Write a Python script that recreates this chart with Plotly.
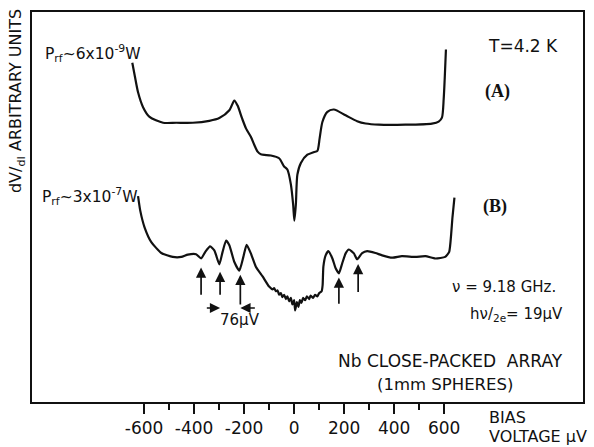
import plotly.graph_objects as go

# Bias voltage (µV) and dV/dI (arbitrary units) for the two rf power levels
bias_a = [-647, -637, -624, -604, -578, -524, -471, -405, -339, -299, -259, -239, -226,
          -208, -192, -173, -159, -146, -133, -93, -60, -40, -27, -13, -4, 1, 7, 13, 27,
          53, 80, 93, 102, 113, 133, 159, 206, 252, 286, 339, 445, 551, 578, 591, 598,
          602, 607]
didv_a = [87.0, 83.6, 79.4, 75.6, 73.1, 71.6, 71.6, 71.6, 72.1, 72.8, 74.8, 77.3, 76.0,
          72.7, 70.1, 68.0, 65.9, 64.2, 63.5, 63.2, 62.5, 60.4, 59.6, 55.8, 50.7, 46.5,
          50.7, 58.3, 61.3, 63.4, 64.1, 64.4, 67.6, 71.8, 74.4, 75.0, 73.5, 72.0, 71.4,
          71.1, 71.1, 71.4, 71.9, 72.9, 77.7, 82.8, 90.4]

bias_b = [-624, -615, -598, -571, -531, -485, -451, -425, -392, -372, -355, -336, -319,
          -299, -286, -272, -259, -239, -219, -203, -190, -173, -153, -126,
          -100, -86, -80, -73, -66, -60, -53, -47, -40, -33, -27, -20, -13, -7, 0, 4,
          11, 17, 23, 29, 36, 44, 51, 60, 66, 76, 84, 93, 100, 110, 114,
          117, 126, 137, 153, 166, 179, 192, 206, 219, 239, 252, 272, 292, 325, 352,
          392, 431, 485, 525, 565, 604, 620, 628, 633, 641]
didv_b = [52.8, 49.0, 44.8, 41.0, 38.2, 37.2, 37.2, 37.8, 37.9, 36.8, 38.5, 39.9, 38.9,
          35.3, 38.5, 41.4, 40.2, 35.9, 33.7, 37.2, 40.3, 38.1, 34.7, 32.2,
          29.6, 28.9, 29.2, 28.4, 28.6, 27.5, 27.9, 26.9, 27.5, 26.4, 27.1, 25.8, 26.7,
          25.0, 26.1, 23.5, 25.6, 24.4, 26.1, 25.4, 26.7, 26.1, 27.1, 26.4, 27.3, 26.7,
          27.5, 27.1, 27.9, 28.4, 30.0,
          34.7, 37.6, 38.7, 36.8, 34.3, 33.0, 35.5, 38.1, 39.1, 38.1, 36.6, 38.2, 38.7,
          38.2, 37.6, 37.0, 37.4, 37.2, 37.4, 36.8, 37.2, 38.5, 43.1, 47.3, 52.4]

# Step markers on curve B: bias position, arrow tip and arrow tail
step_bias = [-372, -296, -215, 179, 256]
step_tip = [34.5, 33.4, 32.6, 31.9, 35.4]
step_tail = [27.1, 27.1, 24.6, 24.8, 27.8]

tick_vals = [-600, -400, -200, 0, 200, 400, 600]
tick_text = ["-600", "-400", "-200", "0", "200", "400", "600"]
minor_vals = [-500, -300, -100, 100, 300, 500]

SANS = "DejaVu Sans"
SERIF = "Liberation Serif"
INK = "#111111"

fig = go.Figure()
fig.add_trace(go.Scatter(x=bias_a, y=didv_a, mode="lines",
                         line=dict(color=INK, width=2.2, shape="spline", smoothing=0.7),
                         hoverinfo="skip", showlegend=False))
fig.add_trace(go.Scatter(x=bias_b, y=didv_b, mode="lines",
                         line=dict(color=INK, width=2.2, shape="spline", smoothing=0.5),
                         hoverinfo="skip", showlegend=False))

ann = []
for v, tip, tail in zip(step_bias, step_tip, step_tail):
    ann.append(dict(x=v, y=tip, ax=v, ay=tail, xref="x", yref="y", axref="x", ayref="y",
                    text="", showarrow=True, arrowhead=2, arrowsize=1.2, arrowwidth=1.7,
                    arrowcolor=INK))
# 76 µV spacing indicator
ann.append(dict(x=-296, y=24.1, ax=-355, ay=24.1, xref="x", yref="y", axref="x", ayref="y",
                text="", showarrow=True, arrowhead=2, arrowsize=1.2, arrowwidth=1.7,
                arrowcolor=INK))
ann.append(dict(x=-215, y=24.1, ax=-151, ay=24.1, xref="x", yref="y", axref="x", ayref="y",
                text="", showarrow=True, arrowhead=2, arrowsize=1.2, arrowwidth=1.7,
                arrowcolor=INK))


def label(text, x, y, size=15, xanchor="left", family=SANS, angle=0):
    ann.append(dict(text=text, x=x, y=y, xref="paper", yref="paper", showarrow=False,
                    xanchor=xanchor, yanchor="middle", textangle=angle,
                    font=dict(family=family, size=size, color=INK)))


label("76µV", 0.377, 0.211, size=15, xanchor="center")
label("P<sub>rf</sub>~6x10<sup>-9</sup>W", 0.020, 0.894, size=15.5)
label("P<sub>rf</sub>~3x10<sup>-7</sup>W", 0.014, 0.527, size=15.5)
label("T=4.2 K", 0.891, 0.914, size=17, xanchor="center")
label("<b>(A)</b>", 0.844, 0.797, size=18, xanchor="center", family=SERIF)
label("<b>(B)</b>", 0.841, 0.501, size=18, xanchor="center", family=SERIF)
label("ν = 9.18 GHz.", 0.759, 0.296, size=15)
label("hν/<sub>2e</sub>= 19µV", 0.792, 0.225, size=15)
label("Nb CLOSE-PACKED  ARRAY", 0.760, 0.106, size=17, xanchor="center")
label("(1mm SPHERES)", 0.749, 0.046, size=16.5, xanchor="center")
label("BIAS", 0.826, -0.040, size=16)
label("VOLTAGE µV", 0.826, -0.088, size=16)
label("dV/<sub>dI</sub> ARBITRARY UNITS", -0.027, 0.772, size=16, xanchor="center", angle=-90)

fig.update_layout(
    width=594, height=447,
    margin=dict(l=32, r=9, t=12, b=40),
    paper_bgcolor="white", plot_bgcolor="white",
    annotations=ann,
    xaxis=dict(range=[-1048, 1155], showgrid=False, zeroline=False,
               showline=True, mirror=True, linecolor=INK, linewidth=1.6,
               tickmode="array", tickvals=tick_vals, ticktext=tick_text,
               ticks="outside", ticklen=10, tickwidth=1.5, tickcolor=INK,
               tickfont=dict(family=SANS, size=17, color=INK),
               minor=dict(tickmode="array", tickvals=minor_vals, ticks="outside",
                          ticklen=6, tickwidth=1.5, tickcolor=INK)),
    yaxis=dict(range=[0, 100], showgrid=False, zeroline=False,
               showline=True, mirror=True, linecolor=INK, linewidth=1.6,
               showticklabels=False, ticks=""),
)

fig.write_html("out.html")
